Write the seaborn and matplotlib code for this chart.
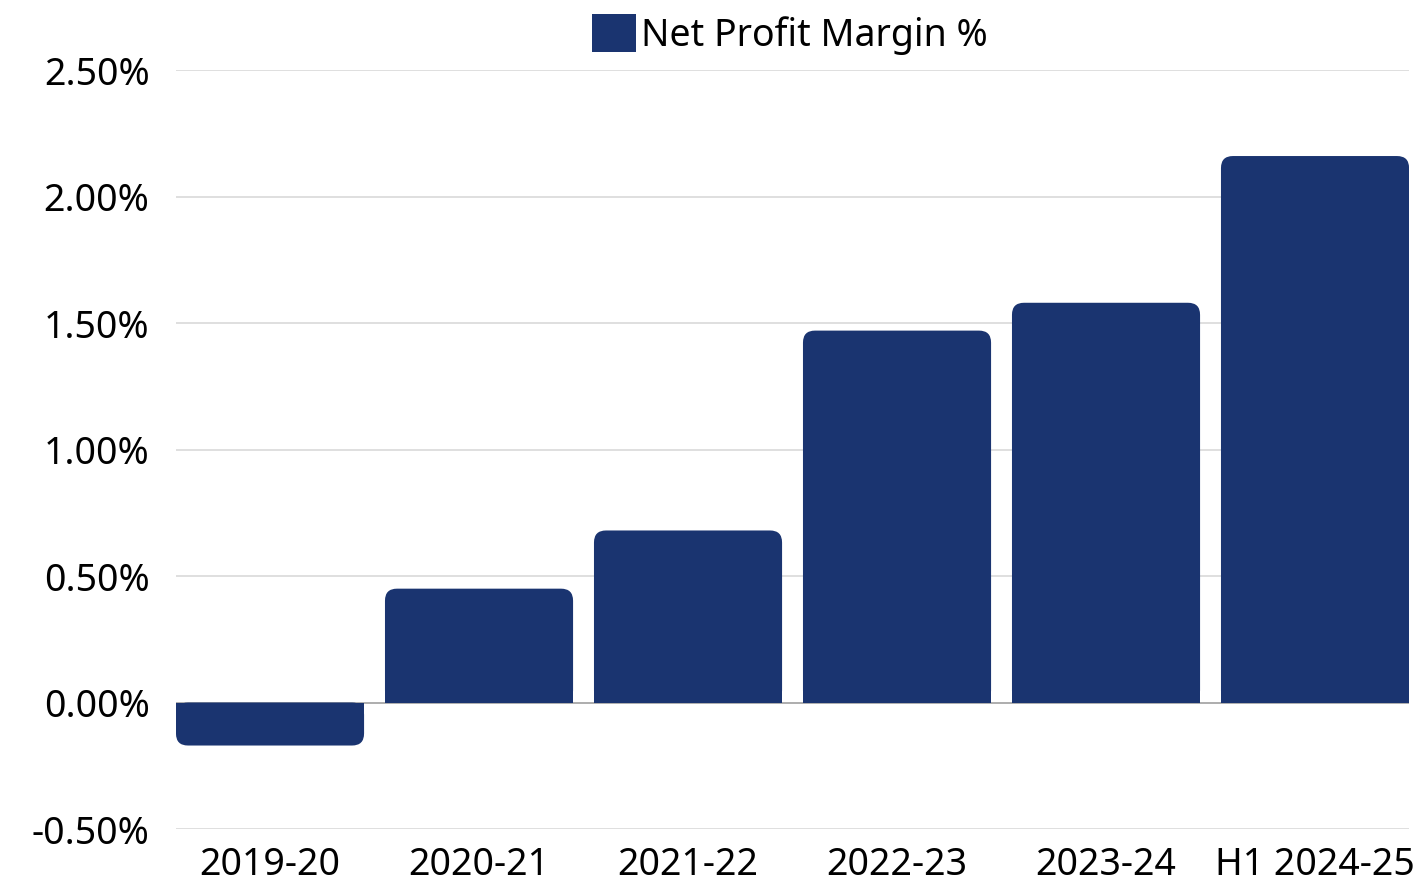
import matplotlib
matplotlib.use("Agg")
import matplotlib.pyplot as plt
import seaborn as sns
import pandas as pd
from matplotlib.patches import FancyBboxPatch, Rectangle, Patch
from matplotlib.ticker import PercentFormatter

periods = ["2019-20", "2020-21", "2021-22", "2022-23", "2023-24", "H1 2024-25"]
net_margin = [-0.17, 0.45, 0.68, 1.47, 1.58, 2.16]
y_ticks = [-0.5, 0.0, 0.5, 1.0, 1.5, 2.0, 2.5]

BAR_COLOR = "#1a3470"

sns.set_theme(style="white")
plt.rcParams["font.family"] = ["Noto Sans", "DejaVu Sans"]
plt.rcParams["axes.unicode_minus"] = False

df = pd.DataFrame({"Period": periods, "Margin": net_margin})

fig = plt.figure(figsize=(14.18, 8.84), dpi=100)
ax = fig.add_axes([0.1241, 0.0622, 0.8696, 0.8586])

sns.barplot(data=df, x="Period", y="Margin", color=BAR_COLOR, width=0.9,
            saturation=1, ax=ax, zorder=3)

ax.set_xlim(-0.45, 5.45)
ax.set_ylim(-0.5, 2.5)

# swap the plain bars for ones with rounded outer corners
px_x = ax.bbox.width / 5.9
px_y = ax.bbox.height / 3.0
aspect = px_x / px_y
r = 12 / px_x
for p in list(ax.patches):
    x, w, h = p.get_x(), p.get_width(), p.get_height()
    y0 = p.get_y()
    p.set_visible(False)
    ax.add_patch(FancyBboxPatch((x, min(y0, y0 + h)), w, abs(h),
                                boxstyle=f"round,pad=0,rounding_size={r}",
                                mutation_aspect=aspect, fc=BAR_COLOR, ec="none", zorder=3))
    ax.add_patch(Rectangle((x, 0), w, h / 2, fc=BAR_COLOR, ec="none", zorder=3))

ax.set_yticks(y_ticks)
ax.yaxis.set_major_formatter(PercentFormatter(decimals=2))
ax.grid(axis="y", color="#d9d9d9", linewidth=1.2, zorder=0)
ax.axhline(0, color="#a6a6a6", linewidth=1.2, zorder=1)
for s in ax.spines.values():
    s.set_visible(False)

ax.set_xlabel("")
ax.set_ylabel("")
ax.tick_params(axis="both", length=0, labelsize=27, labelcolor="#000000")
ax.tick_params(axis="y", pad=19)
ax.tick_params(axis="x", pad=12)

handle = Patch(facecolor=BAR_COLOR, edgecolor="none", label="Net Profit Margin %")
fig.legend(handles=[handle], loc="center", bbox_to_anchor=(0.557, 0.961),
           frameon=False, fontsize=27, handlelength=1.17, handleheight=1.17,
           handletextpad=0.15, borderaxespad=0, labelcolor="#000000")

fig.savefig("out.png", dpi=100)
